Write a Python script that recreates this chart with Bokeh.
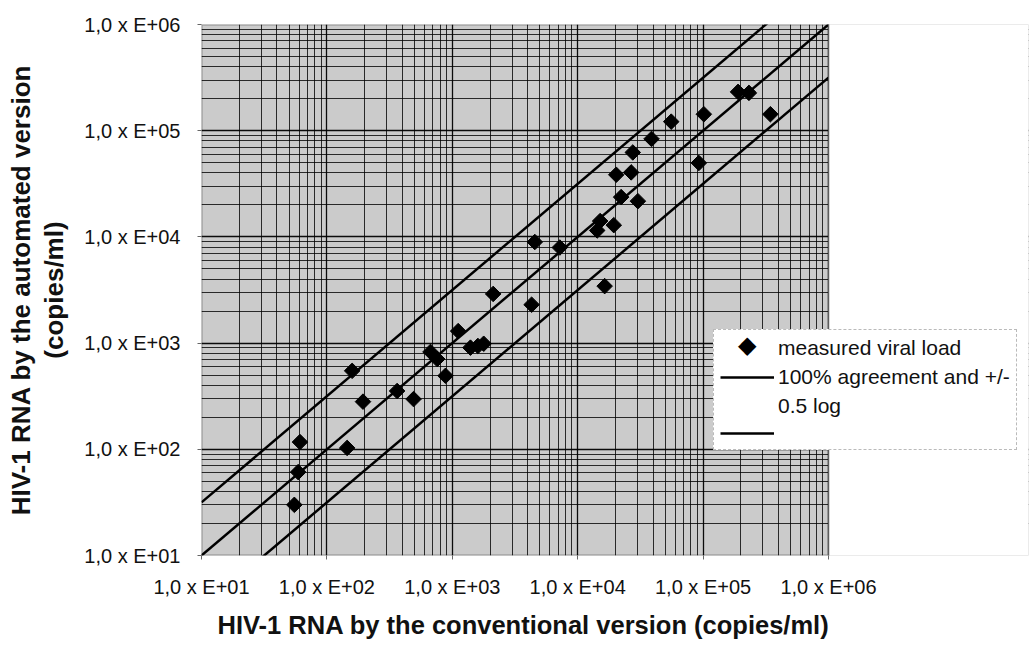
import math
from bokeh.plotting import figure
from bokeh.models import (FixedTicker, CustomJSTickFormatter, Title, Legend,
                          LegendItem, Range1d, BoxAnnotation)
from bokeh.embed import file_html
from bokeh.resources import INLINE

# measured viral load (copies/ml)
conventional = [55, 59, 61, 145, 159, 194, 363, 491, 670, 758, 883, 1114,
                1396, 1600, 1780, 2118, 4290, 4550, 7200, 14300, 15100,
                16400, 19400, 20300, 22200, 26700, 27500, 30200, 38800,
                55700, 92500, 101400, 190000, 232000, 344000]
automated = [30, 61, 117, 103, 548, 281, 354, 297, 826, 708, 492, 1297,
             906, 940, 986, 2904, 2300, 8950, 7940, 11500, 14100,
             3440, 12900, 38500, 23700, 40500, 62400, 21700, 83700,
             121700, 49700, 142900, 232000, 227000, 143000]

# 100% agreement line and +/- 0.5 log lines
ref_x = [10, 1000000]
ref_equal = [10, 1000000]
ref_upper = [31.62, 3162278]
ref_lower = [3.162, 316228]

decade_ticks = [10, 100, 1000, 10000, 100000, 1000000]
tick_labels = ["1,0 x E+01", "1,0 x E+02", "1,0 x E+03",
               "1,0 x E+04", "1,0 x E+05", "1,0 x E+06"]
minor_positions = [k * d for d in decade_ticks[:-1] for k in range(2, 10)]

FONT = "Liberation Sans"
W, H = 1030, 647
LEFT, TOP, BOTTOM, AXIS_RIGHT, FRAME_RIGHT = 201, 24, 558, 828, 1028
# extend the frame to the right (blanked) so the legend can overhang the plot area
px_per_decade = (AXIS_RIGHT - LEFT) / 5.0
x_end = 10 ** (1 + (FRAME_RIGHT - LEFT) / px_per_decade)

p = figure(width=W, height=H, x_axis_type="log", y_axis_type="log",
           x_range=Range1d(10, x_end), y_range=Range1d(10, 1000000),
           output_backend="svg", toolbar_location=None,
           min_border_left=LEFT, min_border_right=W - FRAME_RIGHT,
           min_border_top=TOP, min_border_bottom=H - BOTTOM)

p.background_fill_color = "#cbcbcb"
p.border_fill_color = "white"
p.outline_line_color = None

fmt = CustomJSTickFormatter(args=dict(dticks=decade_ticks, dlabels=tick_labels), code="""
let best = 0;
const lt = Math.log10(tick);
for (let i = 0; i < dticks.length; i++) {
  if (Math.abs(Math.log10(dticks[i]) - lt) < Math.abs(Math.log10(dticks[best]) - lt)) best = i;
}
return dlabels[best];
""")

for ax in (p.xaxis, p.yaxis):
    ax.ticker = FixedTicker(ticks=decade_ticks, minor_ticks=minor_positions)
    ax.formatter = fmt
    ax.major_label_text_font = FONT
    ax.major_label_text_font_size = "20px"
    ax.major_label_text_color = "#111111"
    ax.major_tick_out = 4
    ax.major_tick_in = 0
    ax.major_tick_line_color = "#666666"
    ax.minor_tick_out = 0
    ax.minor_tick_in = 0
    ax.axis_line_color = None

p.xaxis.major_label_standoff = 16
p.yaxis.major_label_standoff = 17

p.add_layout(Title(text="HIV-1 RNA by the conventional version (copies/ml)",
                   align="left", offset=16, text_font=FONT,
                   text_font_size="25.5px", text_font_style="bold",
                   text_color="#111111", standoff=17), "below")

# two-line y title
p.yaxis.axis_label = "HIV-1 RNA by the automated version\n(copies/ml)"
p.yaxis.axis_label_text_font = FONT
p.yaxis.axis_label_text_font_size = "26px"
p.yaxis.axis_label_text_font_style = "bold"
p.yaxis.axis_label_text_color = "#111111"
p.yaxis.axis_label_text_line_height = 1.12
p.yaxis.axis_label_standoff = 12

for g in (p.xgrid, p.ygrid):
    g.grid_line_color = "black"
    g.grid_line_width = 1.3
    g.grid_line_alpha = 0.95
    g.minor_grid_line_color = "black"
    g.minor_grid_line_width = 1
    g.minor_grid_line_alpha = 0.8

r_eq = p.line(ref_x, ref_equal, line_color="black", line_width=2.5)
r_up = p.line(ref_x, ref_upper, line_color="black", line_width=2.5)
r_lo = p.line(ref_x, ref_lower, line_color="black", line_width=2.5)
r_pts = p.scatter(conventional, automated, marker="square", angle=math.pi / 4,
                  size=11, fill_color="black", line_color="black")
# legend-only renderer (no data, invisible glyph)
r_leg_txt = p.line([], [], line_alpha=0)

# blank the area right of the plot area, then draw the plot-area border
p.add_layout(BoxAnnotation(left=1000000, fill_color="white", fill_alpha=1,
                           line_color=None))
p.add_layout(BoxAnnotation(left=10, right=1000000, bottom=10, top=1000000,
                           fill_alpha=0, line_color="black", line_width=2))

LEG_X = 713
legend = Legend(items=[
    LegendItem(label="measured viral load", renderers=[r_leg_txt]),
    LegendItem(label="100% agreement and +/-", renderers=[r_eq]),
    LegendItem(label="0.5 log", renderers=[r_leg_txt]),
    LegendItem(label=" ", renderers=[r_up]),
], location=(LEG_X - LEFT, BOTTOM - 453))
legend.label_text_font = FONT
legend.label_text_font_size = "21px"
legend.label_text_color = "#111111"
legend.glyph_width = 54
legend.glyph_height = 20
legend.label_height = 20
legend.label_standoff = 4
legend.padding = 6
legend.spacing = 5
legend.margin = 0
legend.background_fill_color = "white"
legend.background_fill_alpha = 1
legend.border_line_color = "#777777"
legend.border_line_dash = "2 2"
legend.border_line_width = 1
p.add_layout(legend, "center")

# diamond symbol of the "measured viral load" entry, laid over the glyph slot
sym = Legend(items=[LegendItem(label="\u25c6", renderers=[r_leg_txt])],
             location=(738 - LEFT, BOTTOM - 362))
sym.label_text_font = "DejaVu Sans"
sym.label_text_font_size = "24px"
sym.label_text_color = "black"
sym.glyph_width = 0
sym.glyph_height = 24
sym.label_height = 24
sym.label_standoff = 0
sym.padding = 0
sym.spacing = 0
sym.margin = 0
sym.background_fill_alpha = 0
sym.border_line_color = None
p.add_layout(sym, "center")

open("out.html", "w").write(file_html(p, INLINE))
